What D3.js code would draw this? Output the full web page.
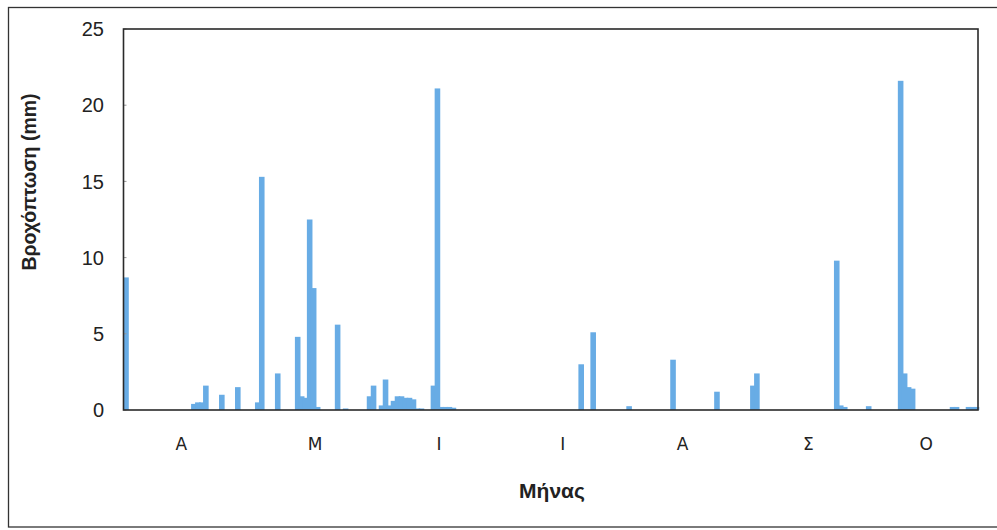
<!DOCTYPE html>
<html>
<head>
<meta charset="utf-8">
<script src="https://cdn.jsdelivr.net/npm/d3@7"></script>
<style>
  body { margin: 0; background: #fff; }
  #chart { width: 997px; height: 530px; }
</style>
</head>
<body>
<div id="chart"></div>
<script>
// daily rainfall, day 0 = 1 April, 214 days to 31 October
const nDays = 214;
const rainDays = [0, 17, 18, 19, 20, 24, 28, 33, 34, 38, 43, 44, 45, 46, 47, 48, 53, 55,
  61, 62, 64, 65, 66, 67, 68, 69, 70, 71, 72, 73, 74, 77, 78, 79, 80, 81, 82,
  114, 117, 126, 137, 148, 157, 158, 178, 179, 180, 186, 194, 195, 196, 197,
  207, 208, 211, 212, 213];
const rainMm = [8.7, 0.4, 0.5, 0.5, 1.6, 1.0, 1.5, 0.5, 15.3, 2.4, 4.8, 0.9, 0.8, 12.5, 8.0, 0.2, 5.6, 0.1,
  0.9, 1.6, 0.3, 2.0, 0.3, 0.6, 0.9, 0.9, 0.8, 0.8, 0.7, 0.1, 0.1, 1.6, 21.1, 0.2, 0.2, 0.2, 0.15,
  3.0, 5.1, 0.25, 3.3, 1.2, 1.6, 2.4, 9.8, 0.3, 0.2, 0.25, 21.6, 2.4, 1.5, 1.4,
  0.2, 0.2, 0.2, 0.2, 0.2];
const monthLabels = ["Α", "Μ", "Ι", "Ι", "Α", "Σ", "Ο"];
const monthLabelDays = [14.5, 48, 79, 110, 140, 171.5, 201];
const yTicks = [0, 5, 10, 15, 20, 25];

const width = 997, height = 530;
const margin = { left: 123.5, top: 29, right: 19, bottom: 120 };

const svg = d3.select("#chart")
  .append("svg")
  .attr("width", width)
  .attr("height", height);

// outer frame
svg.append("rect")
  .attr("x", 8.5).attr("y", 7.5)
  .attr("width", 1000).attr("height", 519.5)
  .attr("fill", "none")
  .attr("stroke", "#333")
  .attr("stroke-width", 1.3);

const x = d3.scaleLinear()
  .domain([0, nDays])
  .range([margin.left, width - margin.right]);

const y = d3.scaleLinear()
  .domain([0, 25])
  .range([height - margin.bottom, margin.top]);

const dayW = x(1) - x(0);

// bars
svg.append("g")
  .selectAll("rect")
  .data(rainDays.map((d, i) => ({ day: d, v: rainMm[i] })))
  .enter()
  .append("rect")
  .attr("x", (d) => x(d.day) - 0.3)
  .attr("y", (d) => y(d.v))
  .attr("width", dayW + 1.6)
  .attr("height", (d) => y(0) - y(d.v))
  .attr("fill", "#68ace5");

// y axis labels
svg.append("g")
  .selectAll("text")
  .data(yTicks)
  .enter()
  .append("text")
  .attr("x", 104)
  .attr("y", (d) => y(d))
  .attr("dy", "0.36em")
  .attr("text-anchor", "end")
  .attr("font-family", "Liberation Sans, Arial, sans-serif")
  .attr("font-size", 20)
  .attr("fill", "#222")
  .text((d) => d);

// small inner ticks on the left axis
svg.append("g")
  .selectAll("line")
  .data(yTicks)
  .enter()
  .append("line")
  .attr("x1", margin.left)
  .attr("x2", margin.left + 3)
  .attr("y1", (d) => y(d))
  .attr("y2", (d) => y(d))
  .attr("stroke", "#999")
  .attr("stroke-width", 1);

// plot border
svg.append("rect")
  .attr("x", margin.left)
  .attr("y", margin.top)
  .attr("width", width - margin.right - margin.left)
  .attr("height", y(0) - margin.top)
  .attr("fill", "none")
  .attr("stroke", "#2a2a2a")
  .attr("stroke-width", 1.6);

// month labels
svg.append("g")
  .selectAll("text")
  .data(monthLabels)
  .enter()
  .append("text")
  .attr("x", (d, i) => x(monthLabelDays[i]))
  .attr("y", 444)
  .attr("dy", "0.36em")
  .attr("text-anchor", "middle")
  .attr("font-family", "DejaVu Sans, sans-serif")
  .attr("font-size", 17)
  .attr("fill", "#222")
  .text((d) => d);

// axis titles
svg.append("text")
  .attr("x", 552)
  .attr("y", 490)
  .attr("dy", "0.36em")
  .attr("text-anchor", "middle")
  .attr("font-family", "Liberation Sans, Arial, sans-serif")
  .attr("font-weight", "bold")
  .attr("font-size", 21)
  .attr("fill", "#222")
  .text("Μήνας");

svg.append("text")
  .attr("transform", "translate(29,182) rotate(-90)")
  .attr("dy", "0.36em")
  .attr("text-anchor", "middle")
  .attr("font-family", "Liberation Sans, Arial, sans-serif")
  .attr("font-weight", "bold")
  .attr("font-size", 19.5)
  .attr("fill", "#222")
  .text("Βροχόπτωση (mm)");
</script>
</body>
</html>
